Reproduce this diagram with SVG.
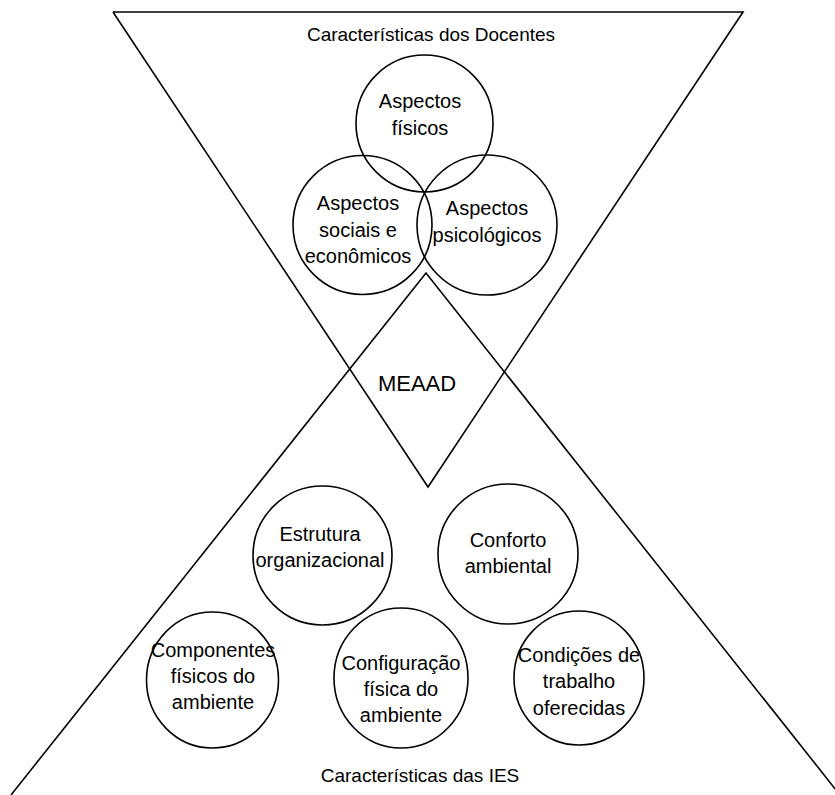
<svg xmlns="http://www.w3.org/2000/svg" width="835" height="795" viewBox="0 0 835 795">
<style>
  .ln { stroke: #000; stroke-width: 1.6; fill: none; }
  .c { stroke: #000; stroke-width: 1.6; fill: none; }
  .cw { stroke: #000; stroke-width: 1.6; fill: #fff; }
  text { font-family: "Liberation Sans", Arial, sans-serif; font-size: 20px; fill: #000; text-anchor: middle; }
</style>
<rect width="835" height="795" fill="#fff"/>
<g id="connectors">
  <polyline class="ln" points="113,12 743,12 428,487 113,12"/>
  <polyline class="ln" points="11,795 426,273 840,795"/>
</g>
<g id="label-docentes"><text x="431" y="41" style="font-size:19px">Características dos Docentes</text></g>
<g id="label-ies"><text x="420" y="782" style="font-size:19px">Características das IES</text></g>
<g id="meaad"><text x="417" y="391" style="font-size:22px">MEAAD</text></g>
<g id="aspectos-fisicos">
  <circle class="c" cx="424.5" cy="123.5" r="68.5"/>
  <text x="420" y="108">Aspectos</text>
  <text x="420" y="135">físicos</text>
</g>
<g id="aspectos-sociais">
  <circle class="c" cx="362.5" cy="225" r="69.5"/>
  <text x="358" y="210">Aspectos</text>
  <text x="358" y="237">sociais e</text>
  <text x="358" y="263">econômicos</text>
</g>
<g id="aspectos-psicologicos">
  <circle class="c" cx="487" cy="225" r="70"/>
  <text x="487" y="215">Aspectos</text>
  <text x="487" y="242">psicológicos</text>
</g>
<g id="estrutura">
  <circle class="cw" cx="322.5" cy="555.5" r="69.5"/>
  <text x="320" y="541">Estrutura</text>
  <text x="320" y="567">organizacional</text>
</g>
<g id="conforto">
  <circle class="cw" cx="508" cy="554" r="70"/>
  <text x="508" y="547">Conforto</text>
  <text x="508" y="573">ambiental</text>
</g>
<g id="componentes">
  <ellipse class="cw" cx="212.5" cy="680" rx="66" ry="68"/>
  <text x="213" y="657">Componentes</text>
  <text x="213" y="683">físicos do</text>
  <text x="213" y="709">ambiente</text>
</g>
<g id="configuracao">
  <ellipse class="cw" cx="401" cy="678" rx="67" ry="70"/>
  <text x="401" y="670">Configuração</text>
  <text x="401" y="696">física do</text>
  <text x="401" y="722">ambiente</text>
</g>
<g id="condicoes">
  <ellipse class="cw" cx="579" cy="678" rx="65" ry="67"/>
  <text x="579" y="662">Condições de</text>
  <text x="579" y="688">trabalho</text>
  <text x="579" y="715">oferecidas</text>
</g>
</svg>
